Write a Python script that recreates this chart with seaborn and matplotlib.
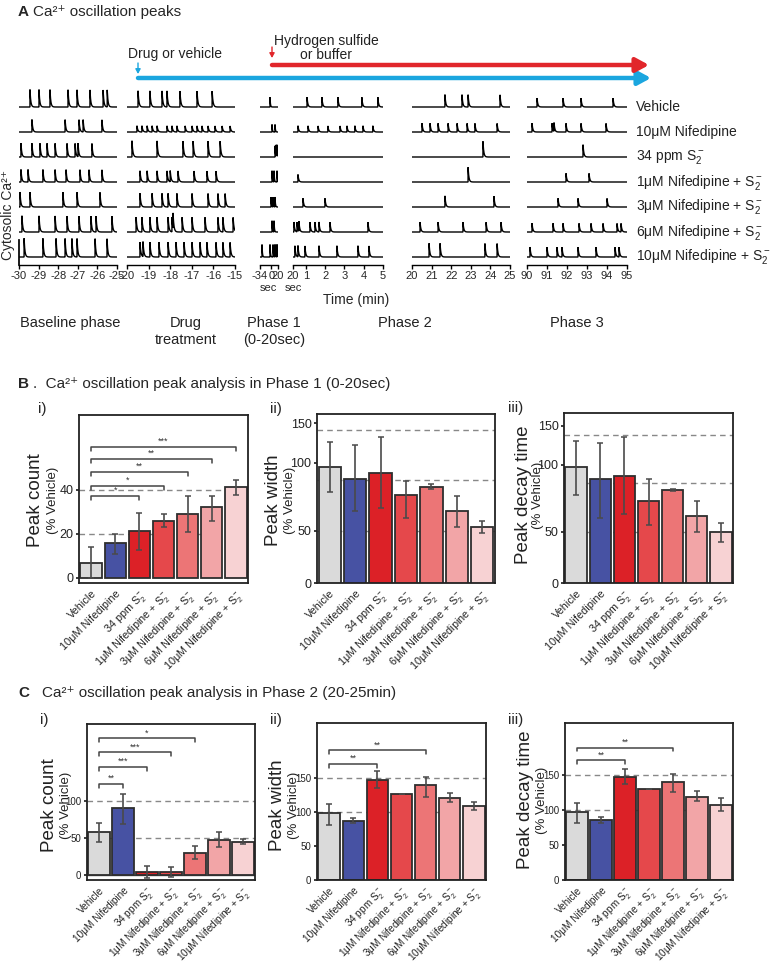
import numpy as np
import pandas as pd
import matplotlib
matplotlib.use("Agg")
from matplotlib import pyplot as plt
from matplotlib.patches import FancyArrowPatch
from matplotlib.ticker import NullLocator, FixedLocator
import seaborn as sns

sns.set_theme(style="white")
plt.rcParams['font.family'] = ['Liberation Sans', 'DejaVu Sans']
plt.rcParams['mathtext.fontset'] = 'custom'
plt.rcParams['mathtext.rm'] = 'Liberation Sans'
plt.rcParams['mathtext.it'] = 'Liberation Sans:italic'

# ---------------- data ----------------
row_labels = ["Vehicle", "10\u03bcM Nifedipine", "34 ppm S$_2^-$", "1\u03bcM Nifedipine + S$_2^-$",
              "3\u03bcM Nifedipine + S$_2^-$", "6\u03bcM Nifedipine + S$_2^-$", "10\u03bcM Nifedipine + S$_2^-$"]
conditions = row_labels
bar_colors = ["#dadada", "#4752a3", "#dc2127", "#e5484b", "#ec7576", "#f2a5a7", "#f7d2d3"]

# spike times (baseline / drug in min, phase 1 in sec, phase 2/3 in min)
spikes_baseline = [
    [-29.44, -28.98, -28.42, -27.5, -27.04, -26.38, -25.71, -25.5],
    [-29.34, -27.65, -26.94, -26.73, -25.77],
    [-29.9, -29.34, -28.93, -28.57, -28.16, -27.55, -27.14, -26.99, -26.28],
    [-29.9, -29.54, -28.78, -28.16, -27.6, -26.89, -26.43, -25.77],
    [-29.95, -29.44, -27.76, -27.04, -25.87],
    [-29.85, -28.98, -28.16, -27.55, -26.94, -26.33, -26.07, -25.26],
    [-29.74, -28.78, -28.11, -27.65, -27.3, -27.04, -26.12, -25.51],
]
spikes_drug = [
    [-19.49, -18.94, -18.38, -18.15, -17.55, -16.76, -16.06],
    [-19.54, -19.31, -19.07, -18.84, -18.61, -18.15, -17.92, -17.69, -17.31, -16.99, -16.76,
     -16.53, -16.25, -15.93, -15.6, -15.23],
    [-19.77, -18.61, -17.41, -16.94, -16.25, -15.69],
    [-19.4, -19.07, -18.61, -18.15, -18.0, -17.64, -16.9, -16.3, -15.88],
    [-19.4, -18.84, -18.38, -18.1, -17.69, -16.99, -16.25, -15.79, -15.46],
    [-19.58, -19.31, -18.94, -18.61, -18.1, -17.92, -17.87, -17.45, -16.99, -16.39, -15.79, -15.56, -15.09],
    [-19.4, -19.26, -18.94, -18.52, -18.1, -17.73, -17.36, -16.99, -16.62, -16.3, -15.88, -15.56, -15.23],
]
spikes_phase1 = [
    [-4], [2, 11], [11, 14, 17], [2, 8, 17], [-1, 5, 11], [2, 8], [-28, -4, 5, 11, 17],
]
spikes_phase2a = [
    [1.06, 1.83, 2.66, 3.9, 4.73],
    [0.59, 1.11, 1.63, 2.14, 2.77, 3.13, 3.54, 3.96, 4.47],
    [],
    [0.59],
    [0.85, 1.99],
    [0.38, 0.54, 0.64, 1.21, 1.47, 1.68, 2.25, 4.22],
    [0.43, 0.59, 0.95, 1.68, 2.61, 3.7, 4.27],
]
spikes_phase2b = [
    [21.68, 22.55, 22.86, 24.49],
    [20.51, 20.92, 21.33, 21.84, 22.3, 22.81, 23.21, 24.34],
    [23.62],
    [22.86],
    [21.68, 24.18],
    [20.41, 21.33, 22.6, 23.78, 24.54],
    [20.87, 21.43, 23.72, 24.34],
]
spikes_phase3 = [
    [90.5, 91.8, 92.7, 94.3],
    [90.25, 91.25, 91.35, 91.95, 92.7, 93.95],
    [92.8],
    [91.95, 93.1],
    [91.55, 92.55, 94.0],
    [90.25, 91.3, 91.8, 92.6, 93.2, 93.8, 94.5, 94.7],
    [90.15, 91.0, 91.5, 91.75, 92.55, 93.45, 94.4, 94.6],
]
# spike heights per row (fraction of row spacing)
amp_baseline = [0.7, 0.5, 0.55, 0.5, 0.6, 0.65, 0.75]
amp_drug = [0.65, 0.25, 0.65, 0.45, 0.55, 0.6, 0.6]
amp_phase1 = [0.4, 0.3, 0.45, 0.45, 0.4, 0.45, 0.5]
amp_phase2a = [0.4, 0.25, 0.0, 0.3, 0.35, 0.4, 0.45]
amp_phase2b = [0.5, 0.35, 0.64, 0.6, 0.45, 0.4, 0.55]
amp_phase3 = [0.36, 0.35, 0.5, 0.35, 0.35, 0.35, 0.4]

# panel B (phase 1) : mean, lower, upper
b_count = [6.8, 16, 21.4, 26, 29, 32, 41.4]
b_count_lo = [0, 11, 12.7, 23, 21, 26, 37.7]
b_count_hi = [14, 20, 29.5, 29, 37, 37, 44.5]
b_width = [96, 85, 90, 72, 78, 61, 52]
b_width_lo = [74, 61, 63, 57, 77, 52, 49]
b_width_hi = [124, 120, 130, 83, 81, 71, 55]
b_decay = [98, 86, 89, 69, 77, 59, 50]
b_decay_lo = [73, 58, 60, 54, 76, 50, 45]
b_decay_hi = [128, 126, 134, 86, 78, 69, 55]
b_count_sig = [(0, 2, 37.3, "*"), (0, 3, 41.8, "*"), (0, 4, 48.2, "**"), (0, 5, 54, "**"), (0, 6, 59.5, "***")]

# panel C (phase 2)
c_count = [58, 90.5, 4, 4, 30, 47.5, 45]
c_count_lo = [45, 69, -4, -3, 21, 38, 42]
c_count_hi = [70, 109, 12, 11, 39, 58, 49]
c_width = [98.5, 87, 147, 126, 140, 120.5, 109]
c_width_lo = [81, 84, 135, 126, 122, 115, 103]
c_width_hi = [112, 91, 160, 126, 151, 128, 115]
c_decay = [97, 86, 147, 130, 140, 119, 107]
c_decay_lo = [81, 81.5, 137, 130, 126, 113, 99]
c_decay_hi = [110, 90, 159, 130, 151, 127, 117]
c_count_sig = [(0, 1, 123, "**"), (0, 2, 146, "***"), (0, 3, 166, "***"), (0, 4, 185, "*")]
c_width_sig = [(0, 2, 171, "**"), (0, 4, 191, "**")]
c_decay_sig = [(0, 2, 171, "**"), (0, 4, 189, "**")]

# ---------------- figure ----------------
W, H = 780, 966
fig = plt.figure(figsize=(W / 100, H / 100), dpi=100)


def px_axes(x0, y0, x1, y1):
    return fig.add_axes([x0 / W, 1 - y1 / H, (x1 - x0) / W, (y1 - y0) / H])


def ftext(x, y, s, **kw):
    kw.setdefault("va", "center")
    return fig.text(x / W, 1 - y / H, s, **kw)


def trace_segment(x0, x1, spikes, amps, xlim, ticks, ticklabels, tau):
    ax = px_axes(x0, 87, x1, 265)
    t = np.linspace(xlim[0], xlim[1], 4000)
    for r in range(len(spikes)):
        y = np.zeros_like(t)
        for s in spikes[r]:
            m = t >= s
            y[m] += amps[r] * np.exp(-(t[m] - s) / tau)
        ax.plot(t, y - r, color="black", lw=1.0, solid_joinstyle="miter")
    ax.set_xlim(*xlim)
    ax.set_ylim(-6.32, 0.8)
    for sp in ["top", "right", "left"]:
        ax.spines[sp].set_visible(False)
    ax.spines["bottom"].set_color("black")
    ax.spines["bottom"].set_linewidth(1.0)
    ax.set_xticks(ticks)
    ax.set_xticklabels(ticklabels)
    ax.tick_params(axis="x", direction="out", length=3, width=1, pad=1.5, labelsize=8, color="black",
                   bottom=True)
    ax.set_yticks([])
    ax.patch.set_alpha(0)
    return ax


ax_base = trace_segment(19, 117, spikes_baseline, amp_baseline, (-30, -25), range(-30, -24),
                        [str(v) for v in range(-30, -24)], 0.04)
ax_base.spines["left"].set_visible(True)
ax_base.spines["left"].set_color("black")
ax_base.spines["left"].set_bounds(-6.32, -5.3)
trace_segment(127, 235, spikes_drug, amp_drug, (-20, -15), range(-20, -14),
              [str(v) for v in range(-20, -14)], 0.04)
trace_segment(260, 278, spikes_phase1, amp_phase1, (-34, 20), [-34, 0, 20], ["-34", "0", "20"], 1.2)
trace_segment(293, 383, spikes_phase2a, amp_phase2a, (1 / 3, 5), [1 / 3, 1, 2, 3, 4, 5],
              ["20", "1", "2", "3", "4", "5"], 0.04)
trace_segment(412, 510, spikes_phase2b, amp_phase2b, (20, 25), range(20, 26),
              [str(v) for v in range(20, 26)], 0.04)
ax_p3 = trace_segment(527, 627, spikes_phase3, amp_phase3, (90, 95), range(90, 96),
                      [str(v) for v in range(90, 96)], 0.04)
for r, lab in enumerate(row_labels):
    ax_p3.text(1.09, -r, lab, transform=ax_p3.get_yaxis_transform(), va="center", ha="left",
               fontsize=10, color="#222222")

ftext(268, 288, "sec", ha="center", fontsize=8)
ftext(293, 288, "sec", ha="center", fontsize=8)
ftext(356, 300, "Time (min)", ha="center", fontsize=10)
ftext(8, 215, "Cytosolic Ca\u00b2\u207a", ha="center", rotation=90, fontsize=10)

for x, s in [(70, "Baseline phase"), (186, "Drug\ntreatment"), (274, "Phase 1\n(0-20sec)"),
             (405, "Phase 2"), (577, "Phase 3")]:
    fig.text(x / W, 1 - 316 / H, s, ha="center", va="top", fontsize=10.5, color="#222222",
             linespacing=1.3)

# panel A headers and treatment arrows
ftext(18, 12, "A", fontsize=11, fontweight="bold")
ftext(33, 12, "Ca\u00b2\u207a oscillation peaks", fontsize=11)
ftext(128, 54, "Drug or vehicle", fontsize=10, color="#222222")
ftext(326, 48, "Hydrogen sulfide\nor buffer", ha="center", fontsize=10, color="#222222", linespacing=1.0)
blue, red = "#1ba6df", "#e1262b"
for (xa, ya, xb, yb, c, lw, ms) in [(138, 78, 651, 78, blue, 3.2, 14), (272, 65, 649, 65, red, 3.2, 14),
                                    (138, 63, 138, 74, blue, 1.0, 5), (272, 47, 272, 58, red, 1.0, 5)]:
    fig.add_artist(FancyArrowPatch((xa / W, 1 - ya / H), (xb / W, 1 - yb / H), transform=fig.transFigure,
                                   arrowstyle="-|>,head_length=0.55,head_width=0.3", mutation_scale=ms,
                                   color=c, lw=lw, shrinkA=0, shrinkB=0))


# ---------------- bar panels ----------------
def bar_panel(rect, means, lo, hi, ylim, yticks, yticklabels, grid, sig=(), log=False, tick_fs=9,
              zero_line=False, label_fs=7.8):
    ax = px_axes(*rect)
    df = pd.DataFrame({"cond": conditions, "val": means})
    sns.barplot(data=df, x="cond", y="val", hue="cond", palette=bar_colors, width=0.88, saturation=1,
                edgecolor="#2e2e2e", linewidth=1.3, errorbar=None, legend=False, ax=ax, zorder=2)
    if log:
        ax.set_yscale("log")
        ax.yaxis.set_minor_locator(NullLocator())
    means = np.array(means)
    ax.errorbar(np.arange(len(means)), means, yerr=[means - np.array(lo), np.array(hi) - means],
                fmt="none", ecolor="#4a4a4a", elinewidth=1.2, capsize=2, capthick=1.1, zorder=3)
    for g in grid:
        ax.axhline(g, ls=(0, (4, 3)), color="#888888", lw=1.0, zorder=1)
    if zero_line:
        ax.axhline(0, color="#555555", lw=1.0, zorder=1)
    rng = ylim[1] - ylim[0]
    for i0, i1, yb, star in sig:
        d = rng * 0.025
        ax.plot([i0, i0, i1, i1], [yb - d, yb, yb, yb - d], color="#444444", lw=1.1)
        ax.text((i0 + i1) / 2, yb + rng * 0.005, star, ha="center", va="bottom", fontsize=6.5, color="#333333")
    ax.set_xlim(-0.5, len(means) - 0.5)
    ax.set_ylim(*ylim)
    ax.yaxis.set_major_locator(FixedLocator(yticks))
    ax.set_yticklabels(yticklabels)
    ax.set_xlabel("")
    ax.set_ylabel("")
    ax.set_xticks(range(len(means)))
    ax.set_xticklabels(conditions, rotation=45, ha="right", rotation_mode="anchor", fontsize=label_fs,
                       color="#222222")
    ax.tick_params(axis="y", labelsize=tick_fs, length=2, pad=2, left=True, colors="#222222")
    ax.tick_params(axis="x", length=0, pad=4)
    for sp in ax.spines.values():
        sp.set_color("#222222")
        sp.set_linewidth(1.3)
    return ax


def ylab(xbig, xsmall, y, text):
    ftext(xbig, y, text, ha="center", rotation=90, fontsize=13.5, color="#222222")
    ftext(xsmall, y, "(% Vehicle)", ha="center", rotation=90, fontsize=9.5, color="#222222")


# panel B
ftext(18, 384, "B", fontsize=11, fontweight="bold")
ftext(33, 384, ".  Ca\u00b2\u207a oscillation peak analysis in Phase 1 (0-20sec)", fontsize=11)
ftext(38, 409, "i)", fontsize=11)
ftext(270, 409, "ii)", fontsize=11)
ftext(508, 408, "iii)", fontsize=11)
bar_panel((79, 415, 248, 583), b_count, b_count_lo, b_count_hi, (-2.3, 74), [0, 20, 40], ["0", "20", "40"],
          [20, 40], sig=b_count_sig)
bar_panel((317, 414, 495, 583), b_width, b_width_lo, b_width_hi, (29.3, 165), [29.3, 50, 100, 150],
          ["0", "50", "100", "150"], [50, 84, 140], log=True)
bar_panel((564, 413, 733, 583), b_decay, b_decay_lo, b_decay_hi, (29.5, 171), [29.5, 50, 100, 150],
          ["0", "50", "100", "150"], [50, 83, 136], log=True)
ylab(36, 53, 500, "Peak count")
ylab(273, 290, 500, "Peak width")
ylab(523, 538, 495, "Peak decay time")

# panel C
ftext(18, 693, "C", fontsize=11, fontweight="bold")
ftext(42, 693, "Ca\u00b2\u207a oscillation peak analysis in Phase 2 (20-25min)", fontsize=11)
ftext(40, 720, "i)", fontsize=11)
ftext(270, 720, "ii)", fontsize=11)
ftext(508, 720, "iii)", fontsize=11)
bar_panel((87, 724, 255, 880), c_count, c_count_lo, c_count_hi, (-7, 204), [0, 50, 100], ["0", "50", "100"],
          [50, 100], sig=c_count_sig, tick_fs=7, zero_line=True, label_fs=7.2)
bar_panel((317, 723, 486, 880), c_width, c_width_lo, c_width_hi, (0, 231), [0, 50, 100, 150],
          ["0", "50", "100", "150"], [100, 150], sig=c_width_sig, tick_fs=7, label_fs=7.2)
bar_panel((565, 723, 733, 880), c_decay, c_decay_lo, c_decay_hi, (0, 224), [0, 50, 100, 150],
          ["0", "50", "100", "150"], [100, 150], sig=c_decay_sig, tick_fs=7, label_fs=7.2)
ylab(49, 66, 805, "Peak count")
ylab(277, 294, 805, "Peak width")
ylab(526, 542, 800, "Peak decay time")

fig.savefig("out.png", dpi=100)
